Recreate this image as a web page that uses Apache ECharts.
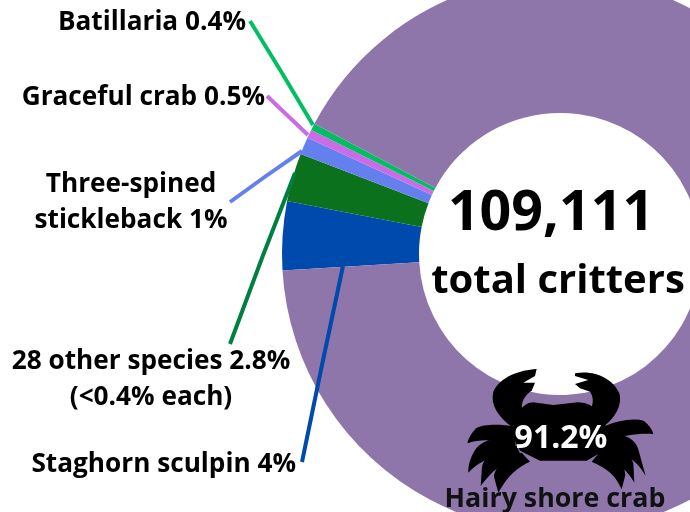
<!DOCTYPE html>
<html><head><meta charset="utf-8">
<style>html,body{margin:0;padding:0;background:#fff}#c{width:690px;height:512px}</style>
<script src="https://cdn.jsdelivr.net/npm/echarts@6/dist/echarts.min.js"></script>
</head><body><div id="c"></div>
<script>
const species = ['Staghorn sculpin','28 other species','Three-spined stickleback','Graceful crab','Batillaria','Hairy shore crab'];
const shares = [4, 2.8, 1, 0.5, 0.4, 91.2];
const sliceColors = ['#004AAD','#0B711C','#6480EE','#CB6CE6','#00BF63','#8E76AB'];
const lineColors = ['#004AAD','#008040','#6480EE','#CB6CE6','#00BF63','#8E76AB'];
const labelTexts = ['Staghorn sculpin 4%','28 other species 2.8%\n(<0.4% each)','Three-spined\nstickleback 1%','Graceful crab 0.5%','Batillaria 0.4%',''];
const totalText = '109,111';
const totalCaption = 'total critters';
const mainShare = '91.2%';
const mainName = 'Hairy shore crab';

const FONT = '"Open Sans", sans-serif';
const labelPlace = [
  {x:296,y:465,align:'right',pts:[[302,462],[322,365],[343,266]]},
  {x:151,y:380,align:'center',pts:[[230,344],[262,258],[295,173]]},
  {x:131,y:203,align:'center',pts:[[230,202],[266,176],[302,151]]},
  {x:265,y:98,align:'right',pts:[[267,96],[288,116],[308,135]]},
  {x:246,y:23,align:'right',pts:[[250,21],[282,73],[313,125]]},
  {x:0,y:0,align:'left',pts:null}
];
const crabParts = [
 'M290 27C240 30 180 50 160 95C150 135 175 170 215 200L255 165C238 140 245 112 275 92L285 68L250 68L285 48Z',
 'M405 40C460 28 520 55 538 100C548 135 525 175 490 200L445 160C462 135 462 112 450 95L420 85L405 72L445 60L405 48Z',
 'M230 165Q255 120 290 128L340 135L400 128Q450 120 485 165L505 220L492 272L440 302L300 302L240 272L212 220Z',
 'M225 200C180 192 130 192 108 205C92 222 84 240 82 250C110 238 150 238 225 246Z',
 'M225 232C170 228 122 240 102 275C88 300 84 320 85 338C110 312 140 290 228 272Z',
 'M230 258C175 258 135 285 126 320L122 378C150 345 170 312 245 292Z',
 'M245 278C200 290 165 318 162 350L175 398C195 365 215 330 270 305Z',
 'M490 200C530 182 582 172 612 183C628 195 637 210 640 222C600 218 560 225 490 242Z',
 'M490 228C542 218 580 228 594 265L617 348C592 305 570 285 490 268Z',
 'M490 252C538 250 570 278 580 310L583 368C565 335 540 310 482 290Z',
 'M480 275C528 282 556 318 556 345L545 388C528 350 510 330 455 305Z'
];
crabParts.forEach((d,i)=>echarts.graphic.registerShape('crabPart'+i, echarts.graphic.extendPath(d, {})));

const chart = echarts.init(document.getElementById('c'), null, {renderer:'canvas'});
const baseSeries = {type:'pie',center:[560,254],radius:[141,278],startAngle:183.4,clockwise:true,silent:true,avoidLabelOverlap:false};
chart.setOption({
  animation:false,
  backgroundColor:'#fff',
  graphic:[
    {type:'group',z:10,x:440,y:360,scaleX:1/3,scaleY:1/3,
      children:crabParts.map((d,i)=>({type:'crabPart'+i,z:10,style:{fill:'#000'}}))},
    {type:'text',z:11,x:561,y:439,style:{text:mainShare,fill:'#fff',font:'bold 32px '+FONT,textAlign:'center',textVerticalAlign:'middle'}},
    {type:'text',z:11,x:555,y:499,style:{text:mainName,fill:'#111',font:'bold 26.8px '+FONT,textAlign:'center',textVerticalAlign:'middle'}},
    {type:'text',z:11,x:551,y:214,style:{text:totalText,fill:'#000',font:'bold 55.5px '+FONT,textAlign:'center',textVerticalAlign:'middle'}},
    {type:'text',z:11,x:558,y:282,style:{text:totalCaption,fill:'#000',font:'bold 40px '+FONT,textAlign:'center',textVerticalAlign:'middle'}}
  ],
  series:[
  Object.assign({},baseSeries,{
    z:2,
    label:{show:false},labelLine:{show:false},
    data:species.map((n,i)=>({name:n,value:shares[i],itemStyle:{color:sliceColors[i]}}))
  }),
  Object.assign({},baseSeries,{
    z:3,
    itemStyle:{color:'rgba(0,0,0,0)'},
    label:{show:true,position:'outside',color:'#000',fontFamily:FONT,fontWeight:'bold',fontSize:26.2,lineHeight:36,
      formatter:p=>labelTexts[p.dataIndex]},
    labelLine:{show:true,smooth:false,minTurnAngle:0,length:10,length2:10,lineStyle:{width:4}},
    labelLayout:p=>{
      const l=labelPlace[p.dataIndex];
      const o={x:l.x,y:l.y,align:l.align,verticalAlign:'middle'};
      if(l.pts) o.labelLinePoints=l.pts;
      return o;
    },
    data:species.map((n,i)=>({
      name:n,value:shares[i],
      labelLine:{show:i<5,lineStyle:{color:lineColors[i],width:4}},
      label:{show:i<5}
    }))
  })]
});
</script></body></html>
